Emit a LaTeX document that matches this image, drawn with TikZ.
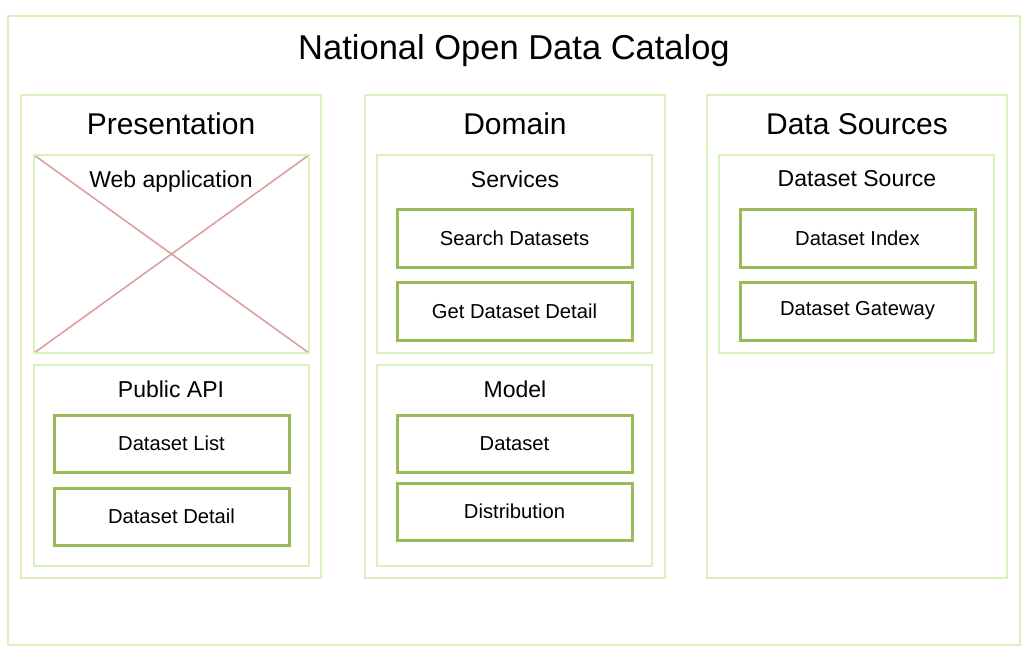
\documentclass[tikz,border=0pt]{standalone}
\usepackage{fontspec}
\setmainfont{Liberation Sans}
\definecolor{lightg}{HTML}{D9F2BC}
\definecolor{darkg}{HTML}{9BBB59}
\definecolor{crossr}{HTML}{DA9C9A}
\begin{document}
\begin{tikzpicture}[x=1pt,y=-1pt,
  frame/.style={draw=lightg,line width=2pt},
  item/.style={draw=darkg,line width=3pt,fill=white},
  ttl/.style={font=\fontsize{34.5}{38}\selectfont},
  coltitle/.style={font=\fontsize{30}{34}\selectfont},
  sectitle/.style={font=\fontsize{23}{27}\selectfont},
  itemtxt/.style={font=\fontsize{20.2}{24}\selectfont}]
\useasboundingbox (0,0) rectangle (1028,667);
\fill[white] (0,0) rectangle (1028,667);
% outer
\draw[frame] (8,16) rectangle (1020,645);
\node[ttl] (title) at (514,51) {National Open Data Catalog};
% columns
\draw[frame] (21,95) rectangle (321,578);
\node[coltitle] (pres) at (171,124) {Presentation};
\draw[frame] (365,95) rectangle (665,578);
\node[coltitle] (dom) at (515,124) {Domain};
\draw[frame] (707,95) rectangle (1007,578);
\node[coltitle] (dsrc) at (857,124) {Data Sources};
% web application
\coordinate (wa1) at (34,155);
\coordinate (wa2) at (309,353);
\coordinate (wa3) at (34,353);
\coordinate (wa4) at (309,155);
\draw[crossr,line width=1.5pt] (wa1) -- (wa2);
\draw[crossr,line width=1.5pt] (wa3) -- (wa4);
\draw[frame] (wa1) rectangle (wa2);
\node[sectitle] (webapp) at (171,182) {Web application};
% public api
\draw[frame] (34,365) rectangle (309,566);
\node[sectitle] (papi) at (171,389) {Public API};
\draw[item] (54,415) rectangle node[itemtxt] (dlist) {Dataset List} (289,472);
\draw[item] (54,488) rectangle node[itemtxt] (ddet) {Dataset Detail} (289,545);
% services
\draw[frame] (377,155) rectangle (652,353);
\node[sectitle] (serv) at (515,179) {Services};
\draw[item] (397,209) rectangle node[itemtxt] (search) {Search Datasets} (632,267);
\draw[item] (397,282) rectangle node[itemtxt] (getdet) {Get Dataset Detail} (632,340);
% model
\draw[frame] (377,365) rectangle (652,566);
\node[sectitle] (model) at (515,389) {Model};
\draw[item] (397,415) rectangle node[itemtxt] (dataset) {Dataset} (632,472);
\draw[item] (397,483) rectangle node[itemtxt] (distr) {Distribution} (632,540);
% dataset source
\draw[frame] (719,155) rectangle (994,353);
\node[sectitle] (dsource) at (857,179) {Dataset Source};
\draw[item] (740,209) rectangle node[itemtxt] (dindex) {Dataset Index} (975,267);
\draw[item] (740,282) rectangle node[itemtxt] (dgate) {Dataset Gateway} (975,340);
\end{tikzpicture}
\end{document}
